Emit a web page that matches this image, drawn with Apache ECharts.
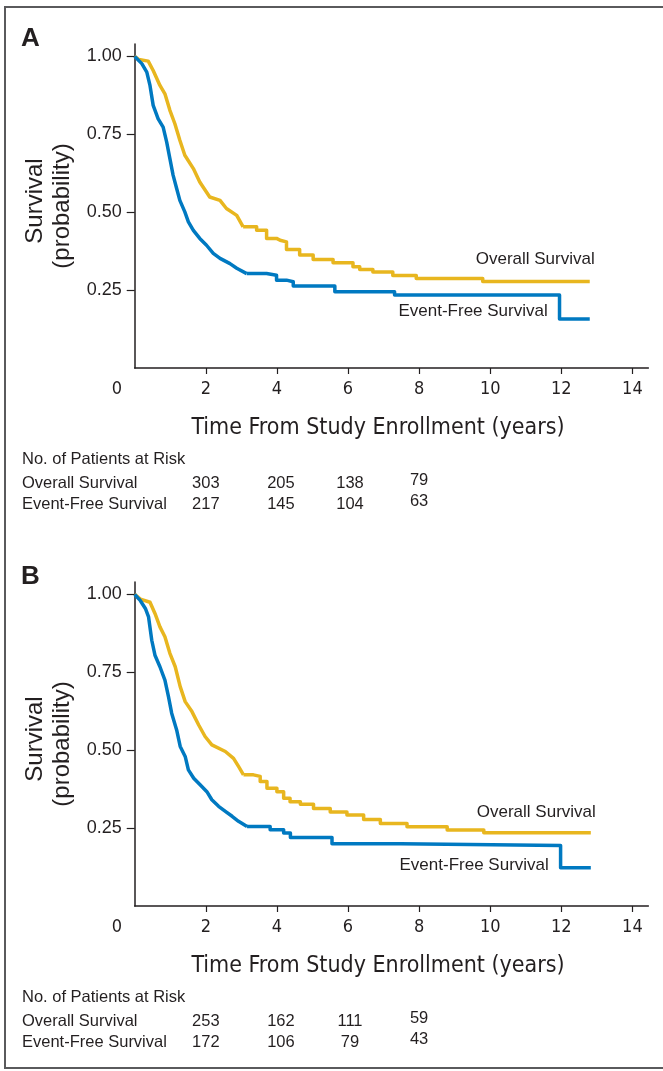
<!DOCTYPE html>
<html><head><meta charset="utf-8">
<script src="https://cdn.jsdelivr.net/npm/echarts@6/dist/echarts.min.js"></script>
<style>html,body{margin:0;padding:0;background:#fff}#c{width:663px;height:1071px}</style>
</head><body><div id="c"></div><script>
// ---- data ----
const xTicks = [2, 4, 6, 8, 10, 12, 14];
const yTicks = [0.25, 0.5, 0.75, 1.0];
const riskTimes = [2, 4, 6, 8];
const riskA_os = [303, 205, 138, 79];
const riskA_efs = [217, 145, 104, 63];
const riskB_os = [253, 162, 111, 59];
const riskB_efs = [172, 106, 79, 43];

const osA_t = [0, 0.12, 0.38, 0.52, 0.71, 0.85, 0.99, 1.13, 1.27, 1.41, 1.65, 1.83, 2.11, 2.40, 2.58, 2.87, 3.05, 3.43, 3.71, 3.99, 4.09, 4.27, 4.64, 5.02, 5.58, 6.14, 6.33, 6.70, 7.26, 7.92, 9.79, 12.8];
const osA_s = [1, 0.99, 0.985, 0.955, 0.907, 0.88, 0.827, 0.784, 0.731, 0.683, 0.64, 0.597, 0.549, 0.538, 0.512, 0.49, 0.453, 0.442, 0.416, 0.41, 0.405, 0.38, 0.363, 0.348, 0.338, 0.325, 0.316, 0.308, 0.297, 0.287, 0.278, 0.278];
const efsA_t = [0, 0.2, 0.34, 0.43, 0.52, 0.66, 0.80, 0.90, 0.99, 1.08, 1.18, 1.27, 1.41, 1.51, 1.65, 1.83, 2.02, 2.21, 2.40, 2.68, 2.87, 3.15, 3.71, 3.99, 4.27, 4.46, 5.63, 7.31, 11.95, 12.8];
const efsA_s = [1, 0.977, 0.95, 0.907, 0.843, 0.80, 0.773, 0.725, 0.672, 0.619, 0.576, 0.538, 0.501, 0.469, 0.442, 0.416, 0.394, 0.368, 0.352, 0.335, 0.32, 0.303, 0.298, 0.282, 0.277, 0.263, 0.245, 0.234, 0.157, 0.157];
const osB_t = [0, 0.16, 0.43, 0.57, 0.71, 0.85, 0.99, 1.14, 1.28, 1.42, 1.61, 1.80, 1.98, 2.17, 2.55, 2.78, 2.92, 3.06, 3.34, 3.53, 3.72, 4.00, 4.19, 4.37, 4.66, 5.03, 5.50, 5.97, 6.44, 6.91, 7.66, 8.79, 9.82, 12.83];
const osB_s = [1, 0.985, 0.975, 0.939, 0.896, 0.864, 0.811, 0.768, 0.704, 0.656, 0.624, 0.581, 0.544, 0.517, 0.496, 0.474, 0.448, 0.421, 0.416, 0.40, 0.378, 0.367, 0.346, 0.335, 0.327, 0.313, 0.302, 0.292, 0.278, 0.265, 0.254, 0.244, 0.235, 0.235];
const efsB_t = [0, 0.16, 0.30, 0.39, 0.48, 0.57, 0.71, 0.85, 0.95, 1.04, 1.18, 1.28, 1.42, 1.51, 1.66, 1.84, 2.03, 2.17, 2.36, 2.55, 2.74, 2.92, 3.16, 3.81, 4.19, 4.38, 5.55, 7.48, 11.98, 12.83];
const efsB_s = [1, 0.98, 0.955, 0.928, 0.853, 0.805, 0.768, 0.725, 0.672, 0.619, 0.565, 0.512, 0.48, 0.437, 0.41, 0.389, 0.367, 0.341, 0.32, 0.304, 0.288, 0.272, 0.255, 0.245, 0.234, 0.22, 0.20, 0.194, 0.123, 0.123];

// ---- styling ----
const GOLD = '#E8B61F', BLUE = '#0079C1', INK = '#231f20';
const NARROW = '"Liberation Sans Narrow","DejaVu Sans Condensed","Liberation Sans",sans-serif';
const SANS = '"Liberation Sans",Arial,sans-serif';
const SPLIT_T = 3.2; // dense early part drawn as a polyline, sparse tail as steps
const zip = (t, s) => t.map((v, i) => [v, s[i]]);

const chart = echarts.init(document.getElementById('c'), null, {renderer: 'canvas'});
const grids = [
  {left: 134.7, top: 44, width: 513.7, height: 324},
  {left: 134.7, top: 582, width: 513.7, height: 324}
];
function xAx(i) {
  return {type: 'value', gridIndex: i, min: 0, max: 14.45, interval: 2,
    axisLine: {lineStyle: {color: INK, width: 1.5}},
    axisTick: {customValues: xTicks, length: 6, lineStyle: {color: INK, width: 1.2}},
    axisLabel: {customValues: xTicks, margin: 12, fontFamily: NARROW, fontSize: 18, color: INK},
    splitLine: {show: false}};
}
function yAx(i) {
  return {type: 'value', gridIndex: i, min: 0, max: 1.04, interval: 0.25,
    axisLine: {show: true, lineStyle: {color: INK, width: 1.5}},
    axisTick: {show: true, customValues: yTicks, length: 8, lineStyle: {color: INK, width: 1.2}},
    axisLabel: {customValues: yTicks, margin: 13, fontFamily: SANS, fontSize: 18, color: INK,
      formatter: v => v.toFixed(2)},
    splitLine: {show: false}};
}
function curve(i, t, s, color) {
  const pts = zip(t, s);
  const k = pts.findIndex(p => p[0] > SPLIT_T);
  const base = {type: 'line', xAxisIndex: i, yAxisIndex: i, symbol: 'none', silent: true, animation: false,
    lineStyle: {color: color, width: 3.5, cap: 'butt', join: 'round'}};
  return [
    Object.assign({}, base, {data: pts.slice(0, k)}),
    Object.assign({}, base, {step: 'end', data: pts.slice(k - 1)})
  ];
}
chart.setOption({
  animation: false,
  grid: grids,
  xAxis: [xAx(0), xAx(1)],
  yAxis: [yAx(0), yAx(1)],
  series: [].concat(
    curve(0, osA_t, osA_s, GOLD), curve(0, efsA_t, efsA_s, BLUE),
    curve(1, osB_t, osB_s, GOLD), curve(1, efsB_t, efsB_s, BLUE))
});

// ---- annotations ----
const g = [];
function txt(x, y, s, o, rot) {
  const el = {type: 'text', x: x, y: y, silent: true,
    style: Object.assign({text: s, fill: INK, font: '16.5px ' + SANS, textAlign: 'left', textVerticalAlign: 'middle'}, o || {})};
  if (rot) el.rotation = rot;
  g.push(el);
}
g.push({type: 'rect', shape: {x: 5, y: 7, width: 680, height: 1061}, style: {fill: 'none', stroke: '#5a5a5c', lineWidth: 2}, silent: true});
const panels = [
  {gi: 0, label: 'A', os: [osA_t, osA_s], efs: [efsA_t, efsA_s], rOs: riskA_os, rEfs: riskA_efs,
   osOff: [5, -22], efsOff: [-42, -8]},
  {gi: 1, label: 'B', os: [osB_t, osB_s], efs: [efsB_t, efsB_s], rOs: riskB_os, rEfs: riskB_efs,
   osOff: [5, -20], efsOff: [-42, -2]}
];
panels.forEach(p => {
  const P = (x, y) => chart.convertToPixel({gridIndex: p.gi}, [x, y]);
  const o = P(0, 0);
  const top = P(0, 1.0);
  txt(21, top[1] - 18, p.label, {font: 'bold 26px ' + SANS});
  txt(117, o[1] + 21, '0', {font: '18px ' + NARROW, textAlign: 'center'});
  const midY = o[1] - 162;
  txt(35, midY - 5, 'Survival', {font: '24px ' + SANS, textAlign: 'center'}, Math.PI / 2);
  txt(62, midY, '(probability)', {font: '24px ' + SANS, textAlign: 'center'}, Math.PI / 2);
  txt(378, o[1] + 60, 'Time From Study Enrollment (years)', {font: '23px ' + NARROW, textAlign: 'center'});
  // curve labels
  const eo = P(p.os[0][p.os[0].length - 1], p.os[1][p.os[1].length - 1]);
  txt(eo[0] + p.osOff[0], eo[1] + p.osOff[1], 'Overall Survival', {font: '17px ' + SANS, textAlign: 'right'});
  const ee = P(p.efs[0][p.efs[0].length - 1], p.efs[1][p.efs[1].length - 1]);
  txt(ee[0] + p.efsOff[0], ee[1] + p.efsOff[1], 'Event-Free Survival', {font: '17px ' + SANS, textAlign: 'right'});
  // risk table
  const ty = o[1] + 91;
  txt(22, ty, 'No. of Patients at Risk');
  txt(22, ty + 24, 'Overall Survival');
  txt(22, ty + 45, 'Event-Free Survival');
  riskTimes.forEach((t, i) => {
    const px = P(t, 0)[0] + (i === 1 ? 4 : i === 2 ? 2 : 0);
    const dy = i === 3 ? -3 : 0;
    txt(px, ty + 24 + dy, String(p.rOs[i]), {textAlign: 'center'});
    txt(px, ty + 45 + dy, String(p.rEfs[i]), {textAlign: 'center'});
  });
});
chart.setOption({graphic: g});
</script></body></html>
